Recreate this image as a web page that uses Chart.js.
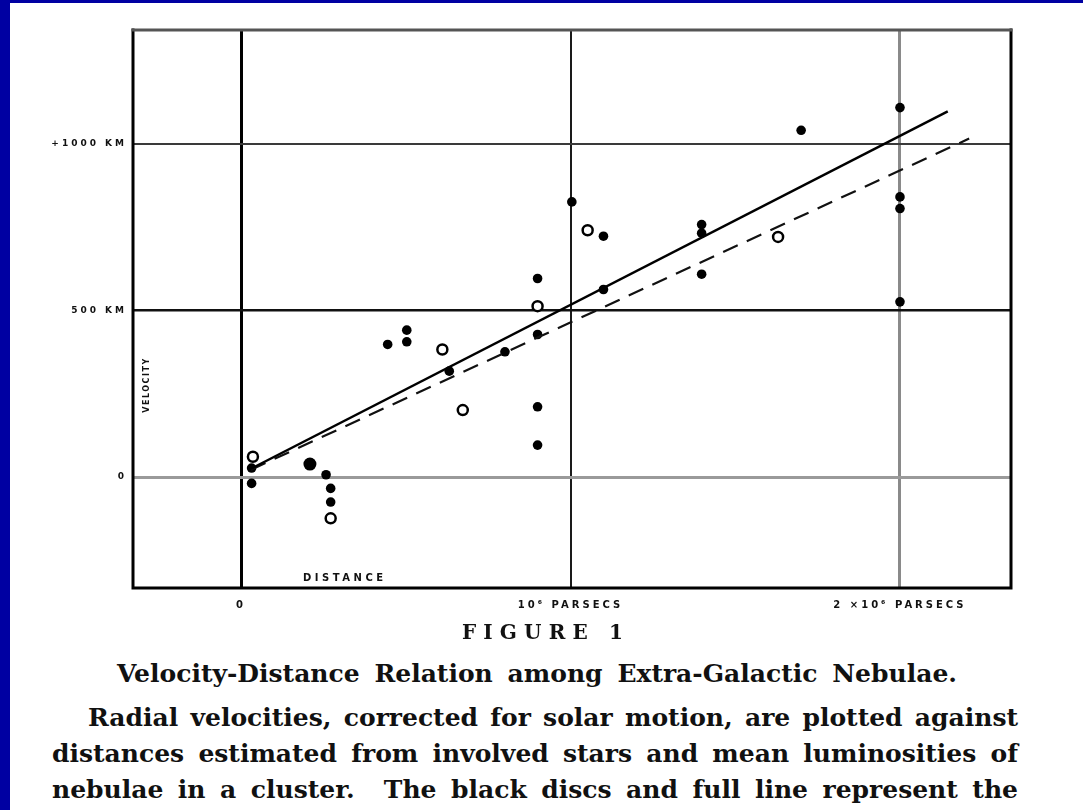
<!DOCTYPE html>
<html><head><meta charset="utf-8">
<script src="https://cdn.jsdelivr.net/npm/chart.js@4.4.1/dist/chart.umd.min.js"></script>
<style>
html,body{margin:0;padding:0;width:1083px;height:810px;overflow:hidden;background:#0000a2;}
#panel{position:absolute;left:10px;top:3px;right:0;bottom:0;background:#fff;}
#c{position:absolute;left:0;top:0;}
.cap{position:absolute;font-family:"DejaVu Serif",serif;font-weight:bold;color:#111;white-space:nowrap;line-height:30px;}
</style></head><body>
<div id="panel"></div>
<canvas id="c" width="1083" height="650"></canvas>
<div class="cap fitl" data-w="168" style="left:462px;top:617px;font-size:20px;">FIGURE 1</div>
<div class="cap fitw" data-w="840" style="left:117px;top:659px;font-size:25px;">Velocity-Distance Relation among Extra-Galactic Nebulae.</div>
<div class="cap fitw" data-w="930" style="left:88px;top:703px;font-size:25px;">Radial velocities, corrected for solar motion, are plotted against</div>
<div class="cap fitw" data-w="966" style="left:52px;top:739px;font-size:25px;">distances estimated from involved stars and mean luminosities of</div>
<div class="cap fitw" data-w="966" style="left:52px;top:775px;font-size:25px;">nebulae in a cluster.&nbsp; The black discs and full line represent the</div>
<script>
// Distances in units of 10^6 parsecs, velocities in km/s
const discX = [0.032, 0.032, 0.209, 0.258, 0.272, 0.272, 0.445, 0.503, 0.503, 0.632, 0.801, 0.900, 0.900, 0.900, 0.900, 1.004, 1.100, 1.100, 1.398, 1.398, 1.398, 1.700, 2.000, 2.000, 2.000, 2.000];
const discY = [-19, 27, 39, 7, -34, -75, 398, 441, 406, 318, 376, 596, 428, 211, 96, 826, 723, 563, 758, 732, 609, 1041, 1109, 841, 806, 526];
const circleX = [0.036, 0.272, 0.611, 0.673, 0.900, 1.052, 1.630];
const circleY = [61, -124, 383, 201, 513, 741, 721];
const fullLineX = [0.03, 2.145];
const fullLineY = [25, 1098];
const dashLineX = [0.03, 2.21];
const dashLineY = [22, 1016];
const xTickValues = [0, 1, 2];
const xTickLabels = ['0', '10\u2076 PARSECS', '2 \u00d710\u2076 PARSECS'];
const yTickValues = [0, 500, 1000];
const yTickLabels = ['0', '500 KM', '+1000 KM'];

// fit caption lines to the reference widths
document.querySelectorAll('.fitw').forEach(el => {
  const target = +el.dataset.w;
  const nat = el.getBoundingClientRect().width;
  const spaces = (el.textContent.match(/[ \u00a0]/g) || []).length;
  if (spaces) el.style.wordSpacing = ((target - nat) / spaces) + 'px';
});
document.querySelectorAll('.fitl').forEach(el => {
  const target = +el.dataset.w;
  const nat = el.getBoundingClientRect().width;
  const n = el.textContent.length;
  el.style.letterSpacing = ((target - nat) / n) + 'px';
});

const pts = (xs, ys) => xs.map((x, i) => ({x, y: ys[i]}));

const frame = {
  id: 'frame',
  beforeDraw(chart) { chart.ctx.letterSpacing = '3px'; },
  beforeDatasetsDraw(chart) {
    const {ctx, chartArea: a} = chart;
    ctx.save();
    ctx.letterSpacing = '0px';
    ctx.lineCap = 'square';
    ctx.strokeStyle = '#000';
    ctx.lineWidth = 3;
    ctx.beginPath();
    ctx.moveTo(a.left, a.top); ctx.lineTo(a.left, a.bottom); ctx.lineTo(a.right, a.bottom); ctx.lineTo(a.right, a.top);
    ctx.stroke();
    ctx.strokeStyle = '#555';
    ctx.beginPath(); ctx.moveTo(a.left, a.top); ctx.lineTo(a.right, a.top); ctx.stroke();
    ctx.fillStyle = '#111';
    ctx.font = 'bold 10px "DejaVu Sans"';
    ctx.letterSpacing = '3.5px';
    ctx.textAlign = 'left';
    ctx.textBaseline = 'middle';
    ctx.fillText('DISTANCE', a.left + 170, a.bottom - 10);
    ctx.translate(a.left + 14, a.top + 355);
    ctx.rotate(-Math.PI / 2);
    ctx.font = 'bold 8px "DejaVu Sans"';
    ctx.letterSpacing = '1.5px';
    ctx.textAlign = 'center';
    ctx.fillText('VELOCITY', 0, 0);
    ctx.restore();
  },
  afterDraw(chart) { chart.ctx.letterSpacing = '0px'; }
};

const xGridColor = v => v === 0 ? '#000' : (v === 1 ? '#1a1a1a' : '#8a8a8a');
const xGridWidth = v => v === 1 ? 2 : 3;
const yGridColor = v => v === 0 ? '#9a9a9a' : (v === 500 ? '#111' : '#3a3a3a');
const yGridWidth = v => v === 0 ? 3 : (v === 500 ? 2.5 : 2);

new Chart(document.getElementById('c'), {
  type: 'scatter',
  data: {
    datasets: [
      {data: pts(fullLineX, fullLineY), showLine: true, borderColor: '#000', borderWidth: 2.5, pointRadius: 0},
      {data: pts(dashLineX, dashLineY), showLine: true, borderColor: '#111', borderWidth: 2.2, borderDash: [16, 10], pointRadius: 0},
      {data: pts(discX, discY), pointRadius: c => c.dataIndex === 2 ? 6.5 : 4.8, backgroundColor: '#000', borderColor: '#000', borderWidth: 0},
      {data: pts(circleX, circleY), pointRadius: 5, backgroundColor: '#fff', borderColor: '#000', borderWidth: 2.5}
    ]
  },
  options: {
    responsive: false,
    animation: false,
    devicePixelRatio: 1,
    layout: {padding: {left: 13, top: 30, right: 72, bottom: 32}},
    plugins: {legend: {display: false}, tooltip: {enabled: false}},
    scales: {
      x: {
        type: 'linear', min: -0.328, max: 2.337,
        afterBuildTicks: s => { s.ticks = xTickValues.map(v => ({value: v})); },
        afterFit: s => { s.height = 30; },
        border: {display: false},
        grid: {drawTicks: false, color: c => xGridColor(c.tick.value), lineWidth: c => xGridWidth(c.tick.value)},
        ticks: {padding: 11, color: '#111', font: {family: 'DejaVu Sans', weight: 'bold', size: 10},
          callback: (v) => xTickLabels[xTickValues.indexOf(v)], maxRotation: 0, autoSkip: false}
      },
      y: {
        type: 'linear', min: -333, max: 1342,
        afterBuildTicks: s => { s.ticks = yTickValues.map(v => ({value: v})); },
        afterFit: s => { s.width = 120; },
        border: {display: false},
        grid: {drawTicks: false, color: c => yGridColor(c.tick.value), lineWidth: c => yGridWidth(c.tick.value)},
        ticks: {padding: 6, color: '#111', font: {family: 'DejaVu Sans', weight: 'bold', size: 9},
          callback: (v) => yTickLabels[yTickValues.indexOf(v)], autoSkip: false}
      }
    }
  },
  plugins: [frame]
});
</script>
</body></html>
